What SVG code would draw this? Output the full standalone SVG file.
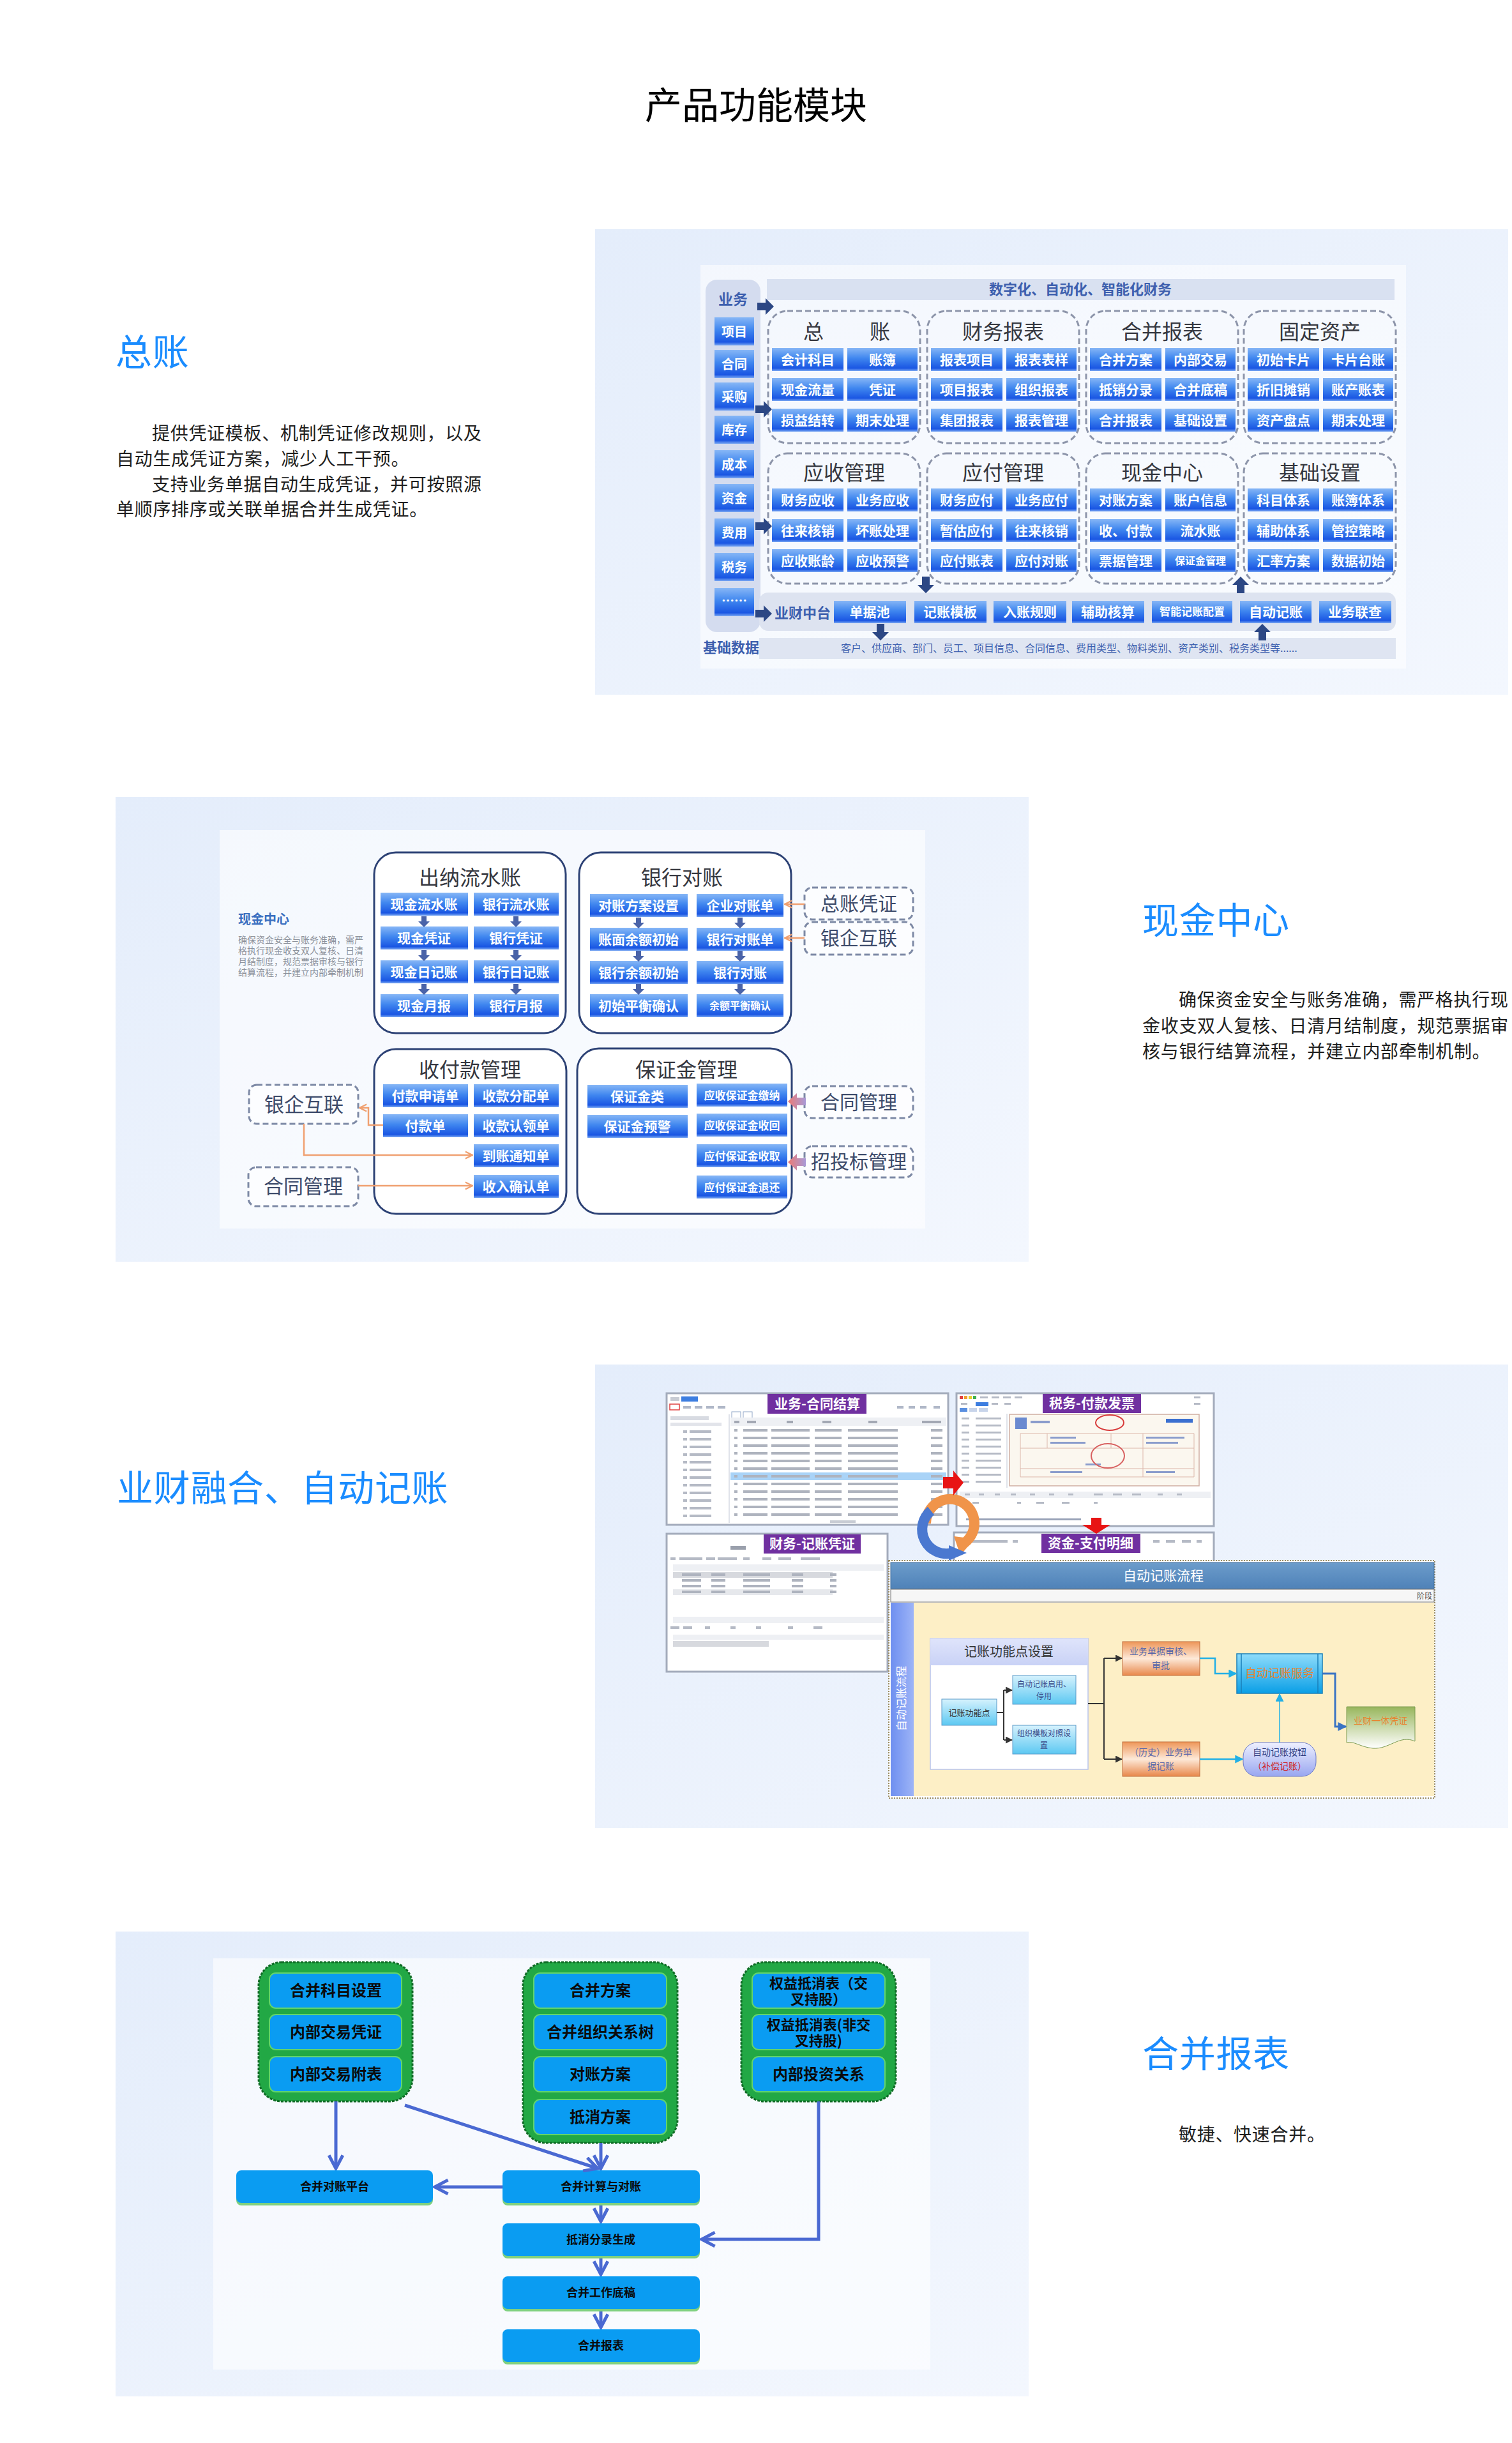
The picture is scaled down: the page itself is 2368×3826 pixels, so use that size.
<svg xmlns="http://www.w3.org/2000/svg" width="2368" height="3826" viewBox="0 0 2368 3826">
<defs>
<linearGradient id="gP" x1="0" y1="0" x2="1" y2="1"><stop offset="0" stop-color="#e4edfb"/><stop offset="1" stop-color="#f3f7fe"/></linearGradient>
<linearGradient id="gB" x1="0" y1="0" x2="0" y2="1"><stop offset="0" stop-color="#86b6f6"/><stop offset="0.45" stop-color="#3f86ef"/><stop offset="0.88" stop-color="#1a56e3"/><stop offset="1" stop-color="#7aa8f2"/></linearGradient>
<linearGradient id="gPink" x1="0" y1="0" x2="1" y2="0"><stop offset="0" stop-color="#ec7a74"/><stop offset="1" stop-color="#a89ad8"/></linearGradient>
<linearGradient id="gHead" x1="0" y1="0" x2="0" y2="1"><stop offset="0" stop-color="#6c9ccb"/><stop offset="1" stop-color="#4f82b8"/></linearGradient>
<linearGradient id="gStrip" x1="0" y1="0" x2="1" y2="0"><stop offset="0" stop-color="#6e8ff0"/><stop offset="1" stop-color="#9db4f7"/></linearGradient>
<linearGradient id="gSet" x1="0" y1="0" x2="0" y2="1"><stop offset="0" stop-color="#dfe4fb"/><stop offset="1" stop-color="#c9d2f6"/></linearGradient>
<linearGradient id="gCyan" x1="0" y1="0" x2="0" y2="1"><stop offset="0" stop-color="#d6f2fd"/><stop offset="1" stop-color="#5cc8f2"/></linearGradient>
<linearGradient id="gOr" x1="0" y1="0" x2="0" y2="1"><stop offset="0" stop-color="#ee9658"/><stop offset="0.5" stop-color="#fde9d8"/><stop offset="1" stop-color="#e8874a"/></linearGradient>
<linearGradient id="gSrv" x1="0" y1="0" x2="0" y2="1"><stop offset="0" stop-color="#8fdcfb"/><stop offset="1" stop-color="#0a9fe6"/></linearGradient>
<linearGradient id="gLav" x1="0" y1="0" x2="0" y2="1"><stop offset="0" stop-color="#eef0ff"/><stop offset="1" stop-color="#98a6f0"/></linearGradient>
<linearGradient id="gDoc" x1="0" y1="0" x2="0" y2="1"><stop offset="0" stop-color="#98b65c"/><stop offset="1" stop-color="#ffffff"/></linearGradient>
<path id="rA" d="M-13,-6 H0 V-13 L13,0 L0,13 V6 H-13 Z"/>
<path id="dA" d="M-4,-8 H4 V0 H9 L0,9 L-9,0 H-4 Z"/>
<marker id="mO" viewBox="0 0 10 10" refX="9" refY="5" markerWidth="14" markerHeight="14" markerUnits="userSpaceOnUse" orient="auto"><path d="M1,1 L9,5 L1,9" fill="none" stroke="#f0a070" stroke-width="1.6"/></marker>
<marker id="mV" viewBox="0 0 12 12" refX="10.5" refY="6" markerWidth="26" markerHeight="26" markerUnits="userSpaceOnUse" orient="auto"><path d="M1,1 L10.5,6 L1,11" fill="none" stroke="#4a69d2" stroke-width="2.3"/></marker>
<marker id="mK" viewBox="0 0 10 10" refX="9" refY="5" markerWidth="11" markerHeight="11" markerUnits="userSpaceOnUse" orient="auto"><path d="M0,0 L10,5 L0,10 Z" fill="#333"/></marker>
<marker id="mC" viewBox="0 0 10 10" refX="9" refY="5" markerWidth="13" markerHeight="13" markerUnits="userSpaceOnUse" orient="auto"><path d="M0,0 L10,5 L0,10 Z" fill="#22b0e6"/></marker>
<marker id="mB" viewBox="0 0 10 10" refX="9" refY="5" markerWidth="14" markerHeight="14" markerUnits="userSpaceOnUse" orient="auto"><path d="M0,0 L10,5 L0,10 Z" fill="#3a74c4"/></marker>
<g id="r1" fill="#aeb3be"><rect x="1150" y="0" width="5" height="4"/><rect x="1164" y="0" width="38" height="4"/><rect x="1208" y="0" width="60" height="4"/><rect x="1276" y="0" width="42" height="4"/><rect x="1328" y="0" width="78" height="4"/><rect x="1458" y="0" width="18" height="4"/></g>
<g id="t1" fill="#b5bac5"><rect x="1070" y="0" width="6" height="4"/><rect x="1080" y="0" width="34" height="4"/></g>
<g id="r2" fill="#b5bac5"><rect x="1506" y="0" width="12" height="3"/><rect x="1528" y="0" width="40" height="3"/></g>
<g id="r3" fill="#aeb3be"><rect x="1068" y="0" width="30" height="4"/><rect x="1114" y="0" width="22" height="4"/><rect x="1164" y="0" width="42" height="4"/><rect x="1240" y="0" width="18" height="4"/><rect x="1300" y="0" width="10" height="4"/></g>
</defs>
<style>
text{font-family:"Noto Sans CJK SC","Noto Sans CJK JP","Noto Sans",sans-serif}
.h1{font-size:58px;fill:#000;text-anchor:middle}
.hd{font-size:57px;fill:#1a8cff;letter-spacing:0.7px}
.p{font-size:28px;fill:#1e1e1e;letter-spacing:0.7px}
.b{fill:url(#gB)}
.bt{fill:#fff;font-weight:700;font-size:21px;text-anchor:middle}
.dg{fill:none;stroke:#8d95aa;stroke-width:3;stroke-dasharray:9 5}
.gt{font-size:32px;fill:#35373f;text-anchor:middle}
.lbl{fill:#3d5fae;font-weight:700}
.arr{fill:#2c4784}
.sg{fill:#fff;stroke:#2d4275;stroke-width:3}
.sa{fill:#4a63a8}
.db{fill:#fff;fill-opacity:0.6;stroke:#7d89a5;stroke-width:3;stroke-dasharray:9 5}
.dt{font-size:31px;fill:#3c4a6a;text-anchor:middle}
.oc{fill:none;stroke:#f0a070;stroke-width:2.5;marker-end:url(#mO)}
.ss{fill:#fff;stroke:#a3abbb;stroke-width:3}
.pl{fill:#7030a0}
.plt{fill:#fff;font-weight:700;font-size:21px;text-anchor:middle}
.gg{fill:#22a845;stroke:#0f6b25;stroke-width:3;stroke-dasharray:4 2}
.gb{fill:#0a9cf2;stroke:#62d46c;stroke-width:2}
.g4{font-size:24px;font-weight:700;fill:#0b0b0b;text-anchor:middle}
.g4s{font-size:22px;font-weight:700;fill:#0b0b0b;text-anchor:middle}
.fb{fill:#0a9cf2}
.fs{fill:#7fd07f}
.ft{font-size:18px;font-weight:700;fill:#0b0b0b;text-anchor:middle}
.va{fill:none;stroke:#4a69d2;stroke-width:5;marker-end:url(#mV)}
.kt{fill:#333;text-anchor:middle}
</style>
<rect x="0" y="0" width="2368" height="3826" fill="#fff"/>

<g id="title"><text class="h1" x="1184" y="186">产品功能模块</text></g>

<!-- ================= Section 1 ================= -->
<g id="s1-text">
<text class="hd" x="181" y="572">总账</text>
<text class="p" x="238" y="689">提供凭证模板、机制凭证修改规则，以及</text>
<text class="p" x="182" y="729">自动生成凭证方案，减少人工干预。</text>
<text class="p" x="238" y="769">支持业务单据自动生成凭证，并可按照源</text>
<text class="p" x="182" y="808">单顺序排序或关联单据合并生成凭证。</text>
</g>
<g id="s1-panel"><rect x="932" y="359" width="1430" height="729" fill="url(#gP)"/><rect x="1097" y="415" width="1105" height="632" fill="#fff" opacity="0.55"/></g>

<g id="s1-yewu">
<rect x="1105" y="438" width="86" height="552" rx="18" fill="#d4dcef"/>
<text class="lbl" x="1148" y="477" style="font-size:23px" text-anchor="middle">业务</text>
<g id="s1-i1"><rect class="b" x="1119" y="497" width="62" height="44"/><text class="bt" x="1150" y="527" style="font-size:20px">项目</text></g>
<g id="s1-i2"><rect class="b" x="1119" y="548" width="62" height="44"/><text class="bt" x="1150" y="578" style="font-size:20px">合同</text></g>
<g id="s1-i3"><rect class="b" x="1119" y="599" width="62" height="44"/><text class="bt" x="1150" y="629" style="font-size:20px">采购</text></g>
<g id="s1-i4"><rect class="b" x="1119" y="651" width="62" height="44"/><text class="bt" x="1150" y="681" style="font-size:20px">库存</text></g>
<g id="s1-i5"><rect class="b" x="1119" y="705" width="62" height="44"/><text class="bt" x="1150" y="735" style="font-size:20px">成本</text></g>
<g id="s1-i6"><rect class="b" x="1119" y="758" width="62" height="44"/><text class="bt" x="1150" y="788" style="font-size:20px">资金</text></g>
<g id="s1-i7"><rect class="b" x="1119" y="812" width="62" height="44"/><text class="bt" x="1150" y="842" style="font-size:20px">费用</text></g>
<g id="s1-i8"><rect class="b" x="1119" y="866" width="62" height="44"/><text class="bt" x="1150" y="896" style="font-size:20px">税务</text></g>
<g id="s1-i9"><rect class="b" x="1119" y="921" width="62" height="44"/><text class="bt" x="1150" y="948" style="font-size:20px">……</text></g>
</g>

<g id="s1-banner"><rect x="1201" y="437" width="983" height="33" fill="#d9e1f1"/><text class="lbl" x="1692" y="461" style="font-size:22px" text-anchor="middle">数字化、自动化、智能化财务</text></g>

<g id="s1-zongzhang">
<rect class="dg" x="1203" y="487" width="238" height="207" rx="30"/>
<text class="gt" y="531"><tspan x="1274">总</tspan><tspan x="1378">账</tspan></text>
<g id="s1-zz1"><rect class="b" x="1209" y="545" width="112" height="36"/><text class="bt" x="1265" y="571">会计科目</text></g>
<g id="s1-zz2"><rect class="b" x="1327" y="545" width="110" height="36"/><text class="bt" x="1382" y="571">账簿</text></g>
<g id="s1-zz3"><rect class="b" x="1209" y="592" width="112" height="36"/><text class="bt" x="1265" y="618">现金流量</text></g>
<g id="s1-zz4"><rect class="b" x="1327" y="592" width="110" height="36"/><text class="bt" x="1382" y="618">凭证</text></g>
<g id="s1-zz5"><rect class="b" x="1209" y="640" width="112" height="36"/><text class="bt" x="1265" y="666">损益结转</text></g>
<g id="s1-zz6"><rect class="b" x="1327" y="640" width="110" height="36"/><text class="bt" x="1382" y="666">期末处理</text></g>
</g>
<g id="s1-cwbb">
<rect class="dg" x="1452" y="487" width="238" height="207" rx="30"/>
<text class="gt" x="1571" y="531">财务报表</text>
<g id="s1-cw1"><rect class="b" x="1458" y="545" width="112" height="36"/><text class="bt" x="1514" y="571">报表项目</text></g>
<g id="s1-cw2"><rect class="b" x="1576" y="545" width="110" height="36"/><text class="bt" x="1631" y="571">报表表样</text></g>
<g id="s1-cw3"><rect class="b" x="1458" y="592" width="112" height="36"/><text class="bt" x="1514" y="618">项目报表</text></g>
<g id="s1-cw4"><rect class="b" x="1576" y="592" width="110" height="36"/><text class="bt" x="1631" y="618">组织报表</text></g>
<g id="s1-cw5"><rect class="b" x="1458" y="640" width="112" height="36"/><text class="bt" x="1514" y="666">集团报表</text></g>
<g id="s1-cw6"><rect class="b" x="1576" y="640" width="110" height="36"/><text class="bt" x="1631" y="666">报表管理</text></g>
</g>
<g id="s1-hbbb">
<rect class="dg" x="1701" y="487" width="238" height="207" rx="30"/>
<text class="gt" x="1820" y="531">合并报表</text>
<g id="s1-hb1"><rect class="b" x="1707" y="545" width="112" height="36"/><text class="bt" x="1763" y="571">合并方案</text></g>
<g id="s1-hb2"><rect class="b" x="1825" y="545" width="110" height="36"/><text class="bt" x="1880" y="571">内部交易</text></g>
<g id="s1-hb3"><rect class="b" x="1707" y="592" width="112" height="36"/><text class="bt" x="1763" y="618">抵销分录</text></g>
<g id="s1-hb4"><rect class="b" x="1825" y="592" width="110" height="36"/><text class="bt" x="1880" y="618">合并底稿</text></g>
<g id="s1-hb5"><rect class="b" x="1707" y="640" width="112" height="36"/><text class="bt" x="1763" y="666">合并报表</text></g>
<g id="s1-hb6"><rect class="b" x="1825" y="640" width="110" height="36"/><text class="bt" x="1880" y="666">基础设置</text></g>
</g>
<g id="s1-gdzc">
<rect class="dg" x="1948" y="487" width="238" height="207" rx="30"/>
<text class="gt" x="2067" y="531">固定资产</text>
<g id="s1-gd1"><rect class="b" x="1954" y="545" width="112" height="36"/><text class="bt" x="2010" y="571">初始卡片</text></g>
<g id="s1-gd2"><rect class="b" x="2072" y="545" width="110" height="36"/><text class="bt" x="2127" y="571">卡片台账</text></g>
<g id="s1-gd3"><rect class="b" x="1954" y="592" width="112" height="36"/><text class="bt" x="2010" y="618">折旧摊销</text></g>
<g id="s1-gd4"><rect class="b" x="2072" y="592" width="110" height="36"/><text class="bt" x="2127" y="618">账产账表</text></g>
<g id="s1-gd5"><rect class="b" x="1954" y="640" width="112" height="36"/><text class="bt" x="2010" y="666">资产盘点</text></g>
<g id="s1-gd6"><rect class="b" x="2072" y="640" width="110" height="36"/><text class="bt" x="2127" y="666">期末处理</text></g>
</g>
<g id="s1-ysgl">
<rect class="dg" x="1203" y="710" width="238" height="204" rx="30"/>
<text class="gt" x="1322" y="752">应收管理</text>
<g id="s1-ys1"><rect class="b" x="1209" y="765" width="112" height="36"/><text class="bt" x="1265" y="791">财务应收</text></g>
<g id="s1-ys2"><rect class="b" x="1327" y="765" width="110" height="36"/><text class="bt" x="1382" y="791">业务应收</text></g>
<g id="s1-ys3"><rect class="b" x="1209" y="813" width="112" height="36"/><text class="bt" x="1265" y="839">往来核销</text></g>
<g id="s1-ys4"><rect class="b" x="1327" y="813" width="110" height="36"/><text class="bt" x="1382" y="839">坏账处理</text></g>
<g id="s1-ys5"><rect class="b" x="1209" y="860" width="112" height="36"/><text class="bt" x="1265" y="886">应收账龄</text></g>
<g id="s1-ys6"><rect class="b" x="1327" y="860" width="110" height="36"/><text class="bt" x="1382" y="886">应收预警</text></g>
</g>
<g id="s1-yfgl">
<rect class="dg" x="1452" y="710" width="238" height="204" rx="30"/>
<text class="gt" x="1571" y="752">应付管理</text>
<g id="s1-yf1"><rect class="b" x="1458" y="765" width="112" height="36"/><text class="bt" x="1514" y="791">财务应付</text></g>
<g id="s1-yf2"><rect class="b" x="1576" y="765" width="110" height="36"/><text class="bt" x="1631" y="791">业务应付</text></g>
<g id="s1-yf3"><rect class="b" x="1458" y="813" width="112" height="36"/><text class="bt" x="1514" y="839">暂估应付</text></g>
<g id="s1-yf4"><rect class="b" x="1576" y="813" width="110" height="36"/><text class="bt" x="1631" y="839">往来核销</text></g>
<g id="s1-yf5"><rect class="b" x="1458" y="860" width="112" height="36"/><text class="bt" x="1514" y="886">应付账表</text></g>
<g id="s1-yf6"><rect class="b" x="1576" y="860" width="110" height="36"/><text class="bt" x="1631" y="886">应付对账</text></g>
</g>
<g id="s1-xjzx">
<rect class="dg" x="1701" y="710" width="238" height="204" rx="30"/>
<text class="gt" x="1820" y="752">现金中心</text>
<g id="s1-xj1"><rect class="b" x="1707" y="765" width="112" height="36"/><text class="bt" x="1763" y="791">对账方案</text></g>
<g id="s1-xj2"><rect class="b" x="1825" y="765" width="110" height="36"/><text class="bt" x="1880" y="791">账户信息</text></g>
<g id="s1-xj3"><rect class="b" x="1707" y="813" width="112" height="36"/><text class="bt" x="1763" y="839">收、付款</text></g>
<g id="s1-xj4"><rect class="b" x="1825" y="813" width="110" height="36"/><text class="bt" x="1880" y="839">流水账</text></g>
<g id="s1-xj5"><rect class="b" x="1707" y="860" width="112" height="36"/><text class="bt" x="1763" y="886">票据管理</text></g>
<g id="s1-xj6"><rect class="b" x="1825" y="860" width="110" height="36"/><text class="bt" x="1880" y="884" style="font-size:16px">保证金管理</text></g>
</g>
<g id="s1-jcsz">
<rect class="dg" x="1948" y="710" width="238" height="204" rx="30"/>
<text class="gt" x="2067" y="752">基础设置</text>
<g id="s1-jc1"><rect class="b" x="1954" y="765" width="112" height="36"/><text class="bt" x="2010" y="791">科目体系</text></g>
<g id="s1-jc2"><rect class="b" x="2072" y="765" width="110" height="36"/><text class="bt" x="2127" y="791">账簿体系</text></g>
<g id="s1-jc3"><rect class="b" x="1954" y="813" width="112" height="36"/><text class="bt" x="2010" y="839">辅助体系</text></g>
<g id="s1-jc4"><rect class="b" x="2072" y="813" width="110" height="36"/><text class="bt" x="2127" y="839">管控策略</text></g>
<g id="s1-jc5"><rect class="b" x="1954" y="860" width="112" height="36"/><text class="bt" x="2010" y="886">汇率方案</text></g>
<g id="s1-jc6"><rect class="b" x="2072" y="860" width="110" height="36"/><text class="bt" x="2127" y="886">数据初始</text></g>
</g>

<g id="s1-yczt">
<rect x="1189" y="928" width="997" height="60" rx="14" fill="#dde3f0"/>
<text class="lbl" x="1257" y="968" style="font-size:22px" text-anchor="middle">业财中台</text>
<g id="s1-yc1"><rect class="b" x="1306" y="941" width="113" height="35"/><text class="bt" x="1362" y="966">单据池</text></g>
<g id="s1-yc2"><rect class="b" x="1432" y="941" width="113" height="35"/><text class="bt" x="1488" y="966">记账模板</text></g>
<g id="s1-yc3"><rect class="b" x="1556" y="941" width="114" height="35"/><text class="bt" x="1613" y="966">入账规则</text></g>
<g id="s1-yc4"><rect class="b" x="1679" y="941" width="113" height="35"/><text class="bt" x="1735" y="966">辅助核算</text></g>
<g id="s1-yc5"><rect class="b" x="1804" y="941" width="126" height="35"/><text class="bt" x="1867" y="964" style="font-size:17px">智能记账配置</text></g>
<g id="s1-yc6"><rect class="b" x="1942" y="941" width="112" height="35"/><text class="bt" x="1998" y="966">自动记账</text></g>
<g id="s1-yc7"><rect class="b" x="2066" y="941" width="113" height="35"/><text class="bt" x="2122" y="966">业务联查</text></g>
</g>
<g id="s1-jcsj">
<rect x="1189" y="999" width="997" height="33" fill="#dfe5f2"/>
<text class="lbl" x="1145" y="1022" style="font-size:22px" text-anchor="middle">基础数据</text>
<text x="1317" y="1021" style="font-size:16px;fill:#3d5fae">客户、供应商、部门、员工、项目信息、合同信息、费用类型、物料类别、资产类别、税务类型等......</text>
</g>
<g id="connectors-s1" class="arr">
<use href="#rA" x="1199" y="480"/>
<use href="#rA" x="1196" y="641"/>
<use href="#rA" x="1196" y="824"/>
<use href="#rA" x="1196" y="961"/>
<use href="#rA" transform="translate(1450,916) rotate(90)"/>
<use href="#rA" transform="translate(1379,990) rotate(90)"/>
<use href="#rA" transform="translate(1943,916) rotate(-90)"/>
<use href="#rA" transform="translate(1977,990) rotate(-90)"/>
</g>

<!-- ================= Section 2 ================= -->
<g id="s2-panel"><rect x="181" y="1248" width="1430" height="728" fill="url(#gP)"/><rect x="344" y="1300" width="1105" height="624" fill="#fff" opacity="0.6"/></g>
<g id="s2-note">
<text x="373" y="1447" style="font-size:20px;font-weight:700;fill:#3a6fc0">现金中心</text>
<g style="font-size:14px;fill:#8c919b">
<text x="373" y="1477">确保资金安全与账务准确，需严</text>
<text x="373" y="1494">格执行现金收支双人复核、日清</text>
<text x="373" y="1511">月结制度，规范票据审核与银行</text>
<text x="373" y="1528">结算流程，并建立内部牵制机制</text>
</g>
</g>
<g id="s2-cnlsz">
<rect class="sg" x="586" y="1335" width="300" height="283" rx="34"/>
<text class="gt" x="736" y="1386">出纳流水账</text>
<g id="s2-cn1"><rect class="b" x="596" y="1398" width="137" height="36"/><text class="bt" x="664" y="1424">现金流水账</text></g>
<g id="s2-cn2"><rect class="b" x="742" y="1398" width="133" height="36"/><text class="bt" x="808" y="1424">银行流水账</text></g>
<g id="s2-cn3"><rect class="b" x="596" y="1451" width="137" height="36"/><text class="bt" x="664" y="1477">现金凭证</text></g>
<g id="s2-cn4"><rect class="b" x="742" y="1451" width="133" height="36"/><text class="bt" x="808" y="1477">银行凭证</text></g>
<g id="s2-cn5"><rect class="b" x="596" y="1504" width="137" height="36"/><text class="bt" x="664" y="1530">现金日记账</text></g>
<g id="s2-cn6"><rect class="b" x="742" y="1504" width="133" height="36"/><text class="bt" x="808" y="1530">银行日记账</text></g>
<g id="s2-cn7"><rect class="b" x="596" y="1557" width="137" height="36"/><text class="bt" x="664" y="1583">现金月报</text></g>
<g id="s2-cn8"><rect class="b" x="742" y="1557" width="133" height="36"/><text class="bt" x="808" y="1583">银行月报</text></g>
</g>
<g id="s2-yhdz">
<rect class="sg" x="907" y="1335" width="332" height="283" rx="34"/>
<text class="gt" x="1068" y="1386">银行对账</text>
<g id="s2-yh1"><rect class="b" x="924" y="1400" width="153" height="36"/><text class="bt" x="1000" y="1426">对账方案设置</text></g>
<g id="s2-yh2"><rect class="b" x="1091" y="1400" width="136" height="36"/><text class="bt" x="1159" y="1426">企业对账单</text></g>
<g id="s2-yh3"><rect class="b" x="924" y="1453" width="153" height="36"/><text class="bt" x="1000" y="1479">账面余额初始</text></g>
<g id="s2-yh4"><rect class="b" x="1091" y="1453" width="136" height="36"/><text class="bt" x="1159" y="1479">银行对账单</text></g>
<g id="s2-yh5"><rect class="b" x="924" y="1505" width="153" height="36"/><text class="bt" x="1000" y="1531">银行余额初始</text></g>
<g id="s2-yh6"><rect class="b" x="1091" y="1505" width="136" height="36"/><text class="bt" x="1159" y="1531">银行对账</text></g>
<g id="s2-yh7"><rect class="b" x="924" y="1557" width="153" height="36"/><text class="bt" x="1000" y="1583">初始平衡确认</text></g>
<g id="s2-yh8"><rect class="b" x="1091" y="1557" width="136" height="36"/><text class="bt" x="1159" y="1581" style="font-size:16px">余额平衡确认</text></g>
</g>
<g id="s2-sfk">
<rect class="sg" x="586" y="1643" width="301" height="258" rx="34"/>
<text class="gt" x="736" y="1687">收付款管理</text>
<g id="s2-sf1"><rect class="b" x="600" y="1698" width="133" height="36"/><text class="bt" x="666" y="1724">付款申请单</text></g>
<g id="s2-sf2"><rect class="b" x="742" y="1698" width="133" height="36"/><text class="bt" x="808" y="1724">收款分配单</text></g>
<g id="s2-sf3"><rect class="b" x="600" y="1745" width="133" height="36"/><text class="bt" x="666" y="1771">付款单</text></g>
<g id="s2-sf4"><rect class="b" x="742" y="1745" width="133" height="36"/><text class="bt" x="808" y="1771">收款认领单</text></g>
<g id="s2-sf5"><rect class="b" x="742" y="1792" width="133" height="36"/><text class="bt" x="808" y="1818">到账通知单</text></g>
<g id="s2-sf6"><rect class="b" x="742" y="1840" width="133" height="36"/><text class="bt" x="808" y="1866">收入确认单</text></g>
</g>
<g id="s2-bzj">
<rect class="sg" x="904" y="1642" width="336" height="259" rx="34"/>
<text class="gt" x="1075" y="1687">保证金管理</text>
<g id="s2-bz1"><rect class="b" x="920" y="1699" width="157" height="36"/><text class="bt" x="998" y="1725">保证金类</text></g>
<g id="s2-bz2"><rect class="b" x="920" y="1746" width="157" height="36"/><text class="bt" x="998" y="1772">保证金预警</text></g>
<g id="s2-bz3"><rect class="b" x="1091" y="1697" width="142" height="36"/><text class="bt" x="1162" y="1722" style="font-size:17px">应收保证金缴纳</text></g>
<g id="s2-bz4"><rect class="b" x="1091" y="1744" width="142" height="36"/><text class="bt" x="1162" y="1769" style="font-size:17px">应收保证金收回</text></g>
<g id="s2-bz5"><rect class="b" x="1091" y="1792" width="142" height="36"/><text class="bt" x="1162" y="1817" style="font-size:17px">应付保证金收取</text></g>
<g id="s2-bz6"><rect class="b" x="1091" y="1841" width="142" height="36"/><text class="bt" x="1162" y="1866" style="font-size:17px">应付保证金退还</text></g>
</g>
<g id="s2-yqhl-l"><rect class="db" x="390" y="1699" width="171" height="61" rx="12"/><text class="dt" x="476" y="1741">银企互联</text></g>
<g id="s2-htgl-l"><rect class="db" x="389" y="1828" width="172" height="61" rx="12"/><text class="dt" x="475" y="1869">合同管理</text></g>
<g id="s2-zzpz"><rect class="db" x="1260" y="1390" width="170" height="50" rx="12"/><text class="dt" x="1345" y="1426" style="font-size:30px">总账凭证</text></g>
<g id="s2-yqhl-r"><rect class="db" x="1260" y="1444" width="170" height="51" rx="12"/><text class="dt" x="1345" y="1480" style="font-size:30px">银企互联</text></g>
<g id="s2-htgl-r"><rect class="db" x="1260" y="1701" width="170" height="50" rx="12"/><text class="dt" x="1345" y="1737" style="font-size:30px">合同管理</text></g>
<g id="s2-ztb"><rect class="db" x="1260" y="1795" width="170" height="49" rx="12"/><text class="dt" x="1345" y="1830" style="font-size:30px">招投标管理</text></g>
<g id="connectors-s2">
<g class="sa">
<use href="#dA" x="664" y="1443"/><use href="#dA" x="664" y="1496"/><use href="#dA" x="664" y="1549"/>
<use href="#dA" x="808" y="1443"/><use href="#dA" x="808" y="1496"/><use href="#dA" x="808" y="1549"/>
<use href="#dA" x="1000" y="1445"/><use href="#dA" x="1000" y="1497"/><use href="#dA" x="1000" y="1549"/>
<use href="#dA" x="1159" y="1445"/><use href="#dA" x="1159" y="1497"/><use href="#dA" x="1159" y="1549"/>
</g>
<path class="oc" d="M600,1762 H577 V1735 H563"/>
<path class="oc" d="M476,1760 V1809 H740"/>
<path class="oc" d="M561,1857 H740"/>
<path class="oc" d="M1260,1416 H1229"/>
<path class="oc" d="M1260,1469 H1229"/>
<polygon fill="url(#gPink)" points="1234,1725 1248,1712 1248,1719 1262,1719 1262,1731 1248,1731 1248,1738"/>
<polygon fill="url(#gPink)" points="1234,1820 1248,1807 1248,1814 1262,1814 1262,1826 1248,1826 1248,1833"/>
</g>
<g id="s2-text">
<text class="hd" x="1789" y="1462">现金中心</text>
<text class="p" x="1846" y="1576">确保资金安全与账务准确，需严格执行现</text>
<text class="p" x="1789" y="1617">金收支双人复核、日清月结制度，规范票据审</text>
<text class="p" x="1789" y="1657">核与银行结算流程，并建立内部牵制机制。</text>
</g>

<!-- ================= Section 3 ================= -->
<g id="s3-text"><text class="hd" x="183" y="2351">业财融合、自动记账</text></g>
<g id="s3-panel"><rect x="932" y="2137" width="1430" height="726" fill="url(#gP)"/></g>

<g id="ss1">
<rect class="ss" x="1044" y="2182" width="441" height="206"/>
<rect x="1050" y="2188" width="14" height="6" fill="#c8ccd4"/><rect x="1067" y="2187" width="26" height="8" fill="#3d7ee0"/>
<rect x="1049" y="2199" width="15" height="9" fill="none" stroke="#e04040" stroke-width="1.5"/>
<g fill="#b0b8c8"><rect x="1070" y="2202" width="12" height="4"/><rect x="1088" y="2202" width="12" height="4"/><rect x="1106" y="2202" width="12" height="4"/><rect x="1124" y="2202" width="12" height="4"/><rect x="1405" y="2202" width="10" height="4"/><rect x="1423" y="2202" width="10" height="4"/><rect x="1441" y="2202" width="10" height="4"/><rect x="1462" y="2202" width="10" height="4"/></g>
<rect x="1146" y="2211" width="14" height="10" fill="none" stroke="#8fa6c8"/><rect x="1164" y="2211" width="14" height="10" fill="none" stroke="#8fa6c8"/>
<rect x="1050" y="2218" width="60" height="6" fill="#d8dbe2"/><rect x="1050" y="2228" width="80" height="5" fill="#e2e4ea"/>
<line x1="1142" y1="2215" x2="1142" y2="2385" stroke="#e0e3ea" stroke-width="2"/>
<use href="#t1" y="2240"/><use href="#t1" y="2252"/><use href="#t1" y="2264"/><use href="#t1" y="2276"/><use href="#t1" y="2288"/><use href="#t1" y="2300"/><use href="#t1" y="2312"/><use href="#t1" y="2324"/><use href="#t1" y="2336"/><use href="#t1" y="2348"/><use href="#t1" y="2360"/><use href="#t1" y="2372"/>
<rect x="1144" y="2220" width="338" height="13" fill="#eef0f4"/>
<g fill="#a3a8b4"><rect x="1150" y="2225" width="8" height="4"/><rect x="1170" y="2225" width="14" height="4"/><rect x="1232" y="2225" width="10" height="4"/><rect x="1288" y="2225" width="14" height="4"/><rect x="1360" y="2225" width="14" height="4"/><rect x="1444" y="2225" width="30" height="4"/></g>
<rect x="1144" y="2306" width="338" height="12" fill="#a9d3f7"/>
<use href="#r1" y="2238"/><use href="#r1" y="2250"/><use href="#r1" y="2262"/><use href="#r1" y="2274"/><use href="#r1" y="2286"/><use href="#r1" y="2298"/><use href="#r1" y="2310"/><use href="#r1" y="2322"/><use href="#r1" y="2334"/><use href="#r1" y="2346"/><use href="#r1" y="2358"/><use href="#r1" y="2370"/>
<rect x="1300" y="2381" width="40" height="4" fill="#c8ccd4"/>
<rect class="pl" x="1202" y="2183" width="155" height="31"/><text class="plt" x="1280" y="2206">业务-合同结算</text>
</g>

<g id="ss2">
<rect class="ss" x="1498" y="2182" width="403" height="208"/>
<rect x="1503" y="2186" width="5" height="5" fill="#e04040"/><rect x="1510" y="2186" width="5" height="5" fill="#f0a030"/><rect x="1517" y="2186" width="5" height="5" fill="#e8d030"/><rect x="1524" y="2186" width="5" height="5" fill="#40b050"/>
<g fill="#b5bac5"><rect x="1535" y="2187" width="12" height="3"/><rect x="1553" y="2187" width="12" height="3"/><rect x="1571" y="2187" width="12" height="3"/><rect x="1589" y="2187" width="12" height="3"/><rect x="1505" y="2197" width="10" height="3"/><rect x="1553" y="2197" width="10" height="3"/><rect x="1573" y="2197" width="10" height="3"/><rect x="1870" y="2187" width="10" height="3"/><rect x="1870" y="2197" width="10" height="3"/></g>
<rect x="1528" y="2196" width="20" height="6" fill="#3d7ee0"/>
<rect x="1503" y="2205" width="12" height="6" fill="#5a8fe0"/><rect x="1518" y="2205" width="12" height="6" fill="#c8d4ea"/><rect x="1533" y="2205" width="14" height="6" fill="#c8d4ea"/>
<line x1="1577" y1="2214" x2="1577" y2="2330" stroke="#e0e3ea" stroke-width="2"/>
<use href="#r2" y="2220"/><use href="#r2" y="2231"/><use href="#r2" y="2242"/><use href="#r2" y="2253"/><use href="#r2" y="2264"/><use href="#r2" y="2275"/><use href="#r2" y="2286"/><use href="#r2" y="2297"/><use href="#r2" y="2308"/><use href="#r2" y="2319"/>
<rect x="1581" y="2215" width="297" height="112" fill="#fbf7ef" stroke="#cfaea2" stroke-width="1.5"/>
<g stroke="#dcb7aa" stroke-width="1"><line x1="1598" y1="2245" x2="1870" y2="2245"/><line x1="1598" y1="2268" x2="1870" y2="2268"/><line x1="1598" y1="2300" x2="1870" y2="2300"/><line x1="1598" y1="2313" x2="1870" y2="2313"/><line x1="1598" y1="2245" x2="1598" y2="2313"/><line x1="1640" y1="2245" x2="1640" y2="2268"/><line x1="1740" y1="2245" x2="1740" y2="2268"/><line x1="1790" y1="2245" x2="1790" y2="2313"/><line x1="1870" y1="2245" x2="1870" y2="2313"/></g>
<rect x="1590" y="2220" width="18" height="18" fill="#6a8ad0"/>
<g fill="#8a9ccc"><rect x="1614" y="2225" width="30" height="4"/><rect x="1645" y="2250" width="40" height="3"/><rect x="1645" y="2258" width="55" height="3"/><rect x="1795" y="2250" width="60" height="3"/><rect x="1795" y="2258" width="50" height="3"/><rect x="1645" y="2304" width="50" height="3"/><rect x="1795" y="2304" width="45" height="3"/><rect x="1700" y="2292" width="24" height="3"/></g>
<rect x="1826" y="2222" width="42" height="6" fill="#3a6fd0"/>
<ellipse cx="1738" cy="2228" rx="22" ry="12" fill="none" stroke="#d83a3a" stroke-width="2"/>
<ellipse cx="1735" cy="2280" rx="26" ry="19" fill="none" stroke="#d86060" stroke-width="2"/>
<rect x="1503" y="2336" width="393" height="10" fill="#eef0f4"/>
<g fill="#b5bac5"><rect x="1511" y="2339" width="8" height="3"/><rect x="1533" y="2339" width="8" height="3"/><rect x="1558" y="2339" width="8" height="3"/><rect x="1583" y="2339" width="8" height="3"/><rect x="1613" y="2339" width="8" height="3"/><rect x="1643" y="2339" width="8" height="3"/><rect x="1673" y="2339" width="8" height="3"/><rect x="1713" y="2339" width="14" height="3"/><rect x="1743" y="2339" width="14" height="3"/><rect x="1773" y="2339" width="14" height="3"/><rect x="1813" y="2339" width="8" height="3"/><rect x="1843" y="2339" width="8" height="3"/><rect x="1523" y="2352" width="10" height="3"/><rect x="1593" y="2352" width="6" height="3"/><rect x="1623" y="2352" width="12" height="3"/><rect x="1663" y="2352" width="12" height="3"/><rect x="1713" y="2352" width="6" height="3"/></g>
<rect x="1513" y="2378" width="180" height="3" fill="#9aa3b8"/>
<rect class="pl" x="1633" y="2183" width="154" height="30"/><text class="plt" x="1710" y="2205">税务-付款发票</text>
</g>

<g id="ss3">
<rect class="ss" x="1044" y="2402" width="346" height="216"/>
<rect x="1144" y="2421" width="24" height="6" fill="#9aa0ac"/>
<g fill="#b5bac5"><rect x="1050" y="2439" width="8" height="4"/><rect x="1064" y="2439" width="36" height="4"/><rect x="1106" y="2439" width="14" height="4"/><rect x="1124" y="2439" width="30" height="4"/><rect x="1164" y="2439" width="10" height="4"/><rect x="1194" y="2439" width="14" height="4"/><rect x="1219" y="2439" width="20" height="4"/><rect x="1254" y="2439" width="30" height="4"/></g>
<rect x="1054" y="2450" width="330" height="10" fill="#eef0f4"/>
<rect x="1054" y="2462" width="250" height="9" fill="#d7d9de"/><rect x="1054" y="2489" width="250" height="9" fill="#e6e8ec"/>
<use href="#r3" y="2464"/><use href="#r3" y="2473"/><use href="#r3" y="2482"/><use href="#r3" y="2491"/>
<rect x="1054" y="2532" width="330" height="10" fill="#eef0f4"/>
<g fill="#b5bac5"><rect x="1050" y="2547" width="14" height="4"/><rect x="1070" y="2547" width="14" height="4"/><rect x="1104" y="2547" width="8" height="4"/><rect x="1144" y="2547" width="8" height="4"/><rect x="1184" y="2547" width="8" height="4"/><rect x="1234" y="2547" width="8" height="4"/><rect x="1274" y="2547" width="14" height="4"/></g>
<rect x="1054" y="2560" width="330" height="8" fill="#eef0f4"/>
<rect x="1054" y="2570" width="150" height="9" fill="#d7d9de"/>
<rect class="pl" x="1196" y="2403" width="152" height="30"/><text class="plt" x="1272" y="2425">财务-记账凭证</text>
</g>

<g id="ss4">
<rect class="ss" x="1494" y="2400" width="407" height="60"/>
<rect x="1506" y="2410" width="6" height="8" fill="#40b050"/>
<g fill="#b5bac5"><rect x="1518" y="2412" width="60" height="4"/><rect x="1586" y="2412" width="8" height="4"/><rect x="1806" y="2412" width="10" height="4"/><rect x="1826" y="2412" width="14" height="4"/><rect x="1851" y="2412" width="14" height="4"/><rect x="1874" y="2412" width="8" height="4"/></g>
<rect class="pl" x="1631" y="2402" width="155" height="30"/><text class="plt" x="1708" y="2424">资金-支付明细</text>
</g>

<g id="s3-cycle">
<path d="M1450,2386 A38,38 0 1,1 1508,2418" fill="none" stroke="#f0944a" stroke-width="16"/>
<polygon points="1494,2406 1526,2410 1504,2436" fill="#f0944a"/>
<path d="M1458,2366 A38,38 0 0,0 1492,2432" fill="none" stroke="#4a78d0" stroke-width="16"/>
<polygon points="1486,2420 1514,2432 1486,2444" fill="#4a78d0"/>
</g>
<g id="s3-red">
<polygon points="1477,2313 1493,2313 1493,2303 1509,2322 1493,2342 1493,2331 1477,2331" fill="#e81414"/>
<polygon points="1709,2377 1725,2377 1725,2388 1739,2388 1717,2402 1695,2388 1709,2388" fill="#e81414"/>
</g>

<g id="s3-window">
<rect x="1392" y="2444" width="855" height="372" fill="#fff" stroke="#9a8a60" stroke-width="2" stroke-dasharray="2 2"/>
<rect x="1395" y="2447" width="851" height="41" fill="url(#gHead)" stroke="#3d6a9a" stroke-width="1"/>
<text x="1822" y="2475" style="font-size:21px;fill:#fff;text-anchor:middle">自动记账流程</text>
<rect x="1395" y="2489" width="851" height="20" fill="#f6f6f6" stroke="#777" stroke-width="1"/>
<text x="2243" y="2504" style="font-size:12px;fill:#555;text-anchor:end">阶段</text>
<rect x="1395" y="2510" width="36" height="303" fill="url(#gStrip)"/>
<text transform="translate(1418,2660) rotate(-90)" style="font-size:17px;fill:#fff;text-anchor:middle">自动记账流程</text>
<rect x="1431" y="2510" width="815" height="303" fill="#fdefc6"/>
</g>
<g id="s3-setting">
<rect x="1457" y="2566" width="247" height="205" fill="#fff" stroke="#b8c4ec" stroke-width="1.5"/>
<rect x="1457" y="2566" width="247" height="42" fill="url(#gSet)"/>
<text class="kt" x="1580" y="2594" style="font-size:20px">记账功能点设置</text>
</g>
<g id="s3-gnd"><rect x="1475" y="2661" width="86" height="41" fill="url(#gCyan)" stroke="#5a9ac8" stroke-width="1"/><text class="kt" x="1518" y="2687" style="font-size:13px">记账功能点</text></g>
<g id="s3-qy"><rect x="1586" y="2624" width="99" height="45" fill="url(#gCyan)" stroke="#5a9ac8" stroke-width="1"/><text class="kt" x="1635" y="2642" style="font-size:12px;fill:#3a4a8a">自动记账启用、</text><text class="kt" x="1635" y="2661" style="font-size:12px;fill:#3a4a8a">停用</text></g>
<g id="s3-zz"><rect x="1586" y="2702" width="99" height="45" fill="url(#gCyan)" stroke="#5a9ac8" stroke-width="1"/><text class="kt" x="1635" y="2719" style="font-size:12px;fill:#3a4a8a">组织模板对照设</text><text class="kt" x="1635" y="2738" style="font-size:12px;fill:#3a4a8a">置</text></g>
<g id="s3-sh"><rect x="1758" y="2571" width="121" height="53" fill="url(#gOr)" stroke="#c07040" stroke-width="1"/><text class="kt" x="1818" y="2591" style="font-size:14px;fill:#5a68aa">业务单据审核、</text><text class="kt" x="1818" y="2613" style="font-size:14px;fill:#5a68aa">审批</text></g>
<g id="s3-ls"><rect x="1758" y="2728" width="121" height="54" fill="url(#gOr)" stroke="#c07040" stroke-width="1"/><text class="kt" x="1818" y="2749" style="font-size:14px;fill:#5a68aa">（历史）业务单</text><text class="kt" x="1818" y="2771" style="font-size:14px;fill:#5a68aa">据记账</text></g>
<g id="s3-srv"><rect x="1937" y="2590" width="134" height="62" fill="url(#gSrv)" stroke="#1a7fb8" stroke-width="1.5"/><line x1="1944" y1="2590" x2="1944" y2="2652" stroke="#1a7fb8" stroke-width="1.5"/><line x1="2064" y1="2590" x2="2064" y2="2652" stroke="#1a7fb8" stroke-width="1.5"/><text class="kt" x="2004" y="2627" style="font-size:18px;fill:#e8832f">自动记账服务</text></g>
<g id="s3-btn"><rect x="1947" y="2729" width="114" height="53" rx="22" fill="url(#gLav)" stroke="#6a78c8" stroke-width="1"/><text class="kt" x="2004" y="2749" style="font-size:14px;fill:#2a3a80">自动记账按钮</text><text class="kt" x="2004" y="2771" style="font-size:14px;fill:#d02020">（补偿记账）</text></g>
<g id="s3-doc"><path d="M2109,2673 H2216 V2727 C2192,2716 2176,2740 2150,2738 C2130,2736 2120,2726 2109,2729 Z" fill="url(#gDoc)" stroke="#7a9a50" stroke-width="1"/><text class="kt" x="2162" y="2700" style="font-size:14px;fill:#e8832f">业财一体凭证</text></g>
<g id="connectors-s3">
<path d="M1561,2682 H1572 M1572,2647 V2725" fill="none" stroke="#333" stroke-width="2"/>
<path d="M1572,2647 H1585" fill="none" stroke="#333" stroke-width="2" marker-end="url(#mK)"/>
<path d="M1572,2725 H1585" fill="none" stroke="#333" stroke-width="2" marker-end="url(#mK)"/>
<path d="M1704,2668 H1729 M1729,2597 V2755" fill="none" stroke="#333" stroke-width="2"/>
<path d="M1729,2597 H1757" fill="none" stroke="#333" stroke-width="2" marker-end="url(#mK)"/>
<path d="M1729,2755 H1757" fill="none" stroke="#333" stroke-width="2" marker-end="url(#mK)"/>
<path d="M1879,2597 H1903 V2621 H1936" fill="none" stroke="#22b0e6" stroke-width="2.5" marker-end="url(#mC)"/>
<path d="M1879,2755 H1946" fill="none" stroke="#22b0e6" stroke-width="2.5" marker-end="url(#mC)"/>
<path d="M2004,2729 V2653" fill="none" stroke="#22b0e6" stroke-width="1.5" marker-end="url(#mC)"/>
<path d="M2071,2621 H2091 V2704 H2108" fill="none" stroke="#3a74c4" stroke-width="3" marker-end="url(#mB)"/>
</g>

<!-- ================= Section 4 ================= -->
<g id="s4-panel"><rect x="181" y="3025" width="1430" height="728" fill="url(#gP)"/><rect x="334" y="3067" width="1123" height="644" fill="#fff" opacity="0.6"/></g>
<g id="s4-g1">
<rect class="gg" x="405" y="3073" width="241" height="218" rx="36"/>
<g id="s4-g1a"><rect class="gb" x="422" y="3090" width="207" height="55" rx="10"/><text class="g4" x="526" y="3126">合并科目设置</text></g>
<g id="s4-g1b"><rect class="gb" x="422" y="3155" width="207" height="55" rx="10"/><text class="g4" x="526" y="3191">内部交易凭证</text></g>
<g id="s4-g1c"><rect class="gb" x="422" y="3221" width="207" height="55" rx="10"/><text class="g4" x="526" y="3257">内部交易附表</text></g>
</g>
<g id="s4-g2">
<rect class="gg" x="819" y="3073" width="242" height="283" rx="36"/>
<g id="s4-g2a"><rect class="gb" x="836" y="3090" width="208" height="55" rx="10"/><text class="g4" x="940" y="3126">合并方案</text></g>
<g id="s4-g2b"><rect class="gb" x="836" y="3155" width="208" height="55" rx="10"/><text class="g4" x="940" y="3191">合并组织关系树</text></g>
<g id="s4-g2c"><rect class="gb" x="836" y="3221" width="208" height="55" rx="10"/><text class="g4" x="940" y="3257">对账方案</text></g>
<g id="s4-g2d"><rect class="gb" x="836" y="3288" width="208" height="55" rx="10"/><text class="g4" x="940" y="3324">抵消方案</text></g>
</g>
<g id="s4-g3">
<rect class="gg" x="1161" y="3073" width="242" height="218" rx="36"/>
<g id="s4-g3a"><rect class="gb" x="1178" y="3090" width="208" height="55" rx="10"/><text class="g4s" x="1282" y="3114">权益抵消表（交</text><text class="g4s" x="1282" y="3139">叉持股）</text></g>
<g id="s4-g3b"><rect class="gb" x="1178" y="3155" width="208" height="55" rx="10"/><text class="g4s" x="1282" y="3179">权益抵消表(非交</text><text class="g4s" x="1282" y="3204">叉持股)</text></g>
<g id="s4-g3c"><rect class="gb" x="1178" y="3221" width="208" height="55" rx="10"/><text class="g4" x="1282" y="3257">内部投资关系</text></g>
</g>
<g id="s4-dzpt"><rect class="fs" x="370" y="3403" width="308" height="51" rx="8"/><rect class="fb" x="370" y="3399" width="308" height="51" rx="8"/><text class="ft" x="524" y="3431">合并对账平台</text></g>
<g id="s4-js"><rect class="fs" x="787" y="3403" width="309" height="51" rx="8"/><rect class="fb" x="787" y="3399" width="309" height="51" rx="8"/><text class="ft" x="941" y="3431">合并计算与对账</text></g>
<g id="s4-dx"><rect class="fs" x="787" y="3486" width="309" height="51" rx="8"/><rect class="fb" x="787" y="3482" width="309" height="51" rx="8"/><text class="ft" x="941" y="3514">抵消分录生成</text></g>
<g id="s4-dg"><rect class="fs" x="787" y="3569" width="309" height="51" rx="8"/><rect class="fb" x="787" y="3565" width="309" height="51" rx="8"/><text class="ft" x="941" y="3597">合并工作底稿</text></g>
<g id="s4-bb"><rect class="fs" x="787" y="3652" width="309" height="51" rx="8"/><rect class="fb" x="787" y="3648" width="309" height="51" rx="8"/><text class="ft" x="941" y="3680">合并报表</text></g>
<g id="connectors-s4">
<path class="va" d="M526,3291 V3396"/>
<path class="va" d="M634,3297 L936,3396"/>
<path class="va" d="M941,3356 V3396"/>
<path class="va" d="M787,3425 H681"/>
<path class="va" d="M1282,3291 V3507 H1099"/>
<path class="va" d="M941,3454 V3479"/>
<path class="va" d="M941,3537 V3562"/>
<path class="va" d="M941,3620 V3645"/>
</g>
<g id="s4-text">
<text class="hd" x="1789" y="3237">合并报表</text>
<text class="p" x="1846" y="3353">敏捷、快速合并。</text>
</g>
</svg>
